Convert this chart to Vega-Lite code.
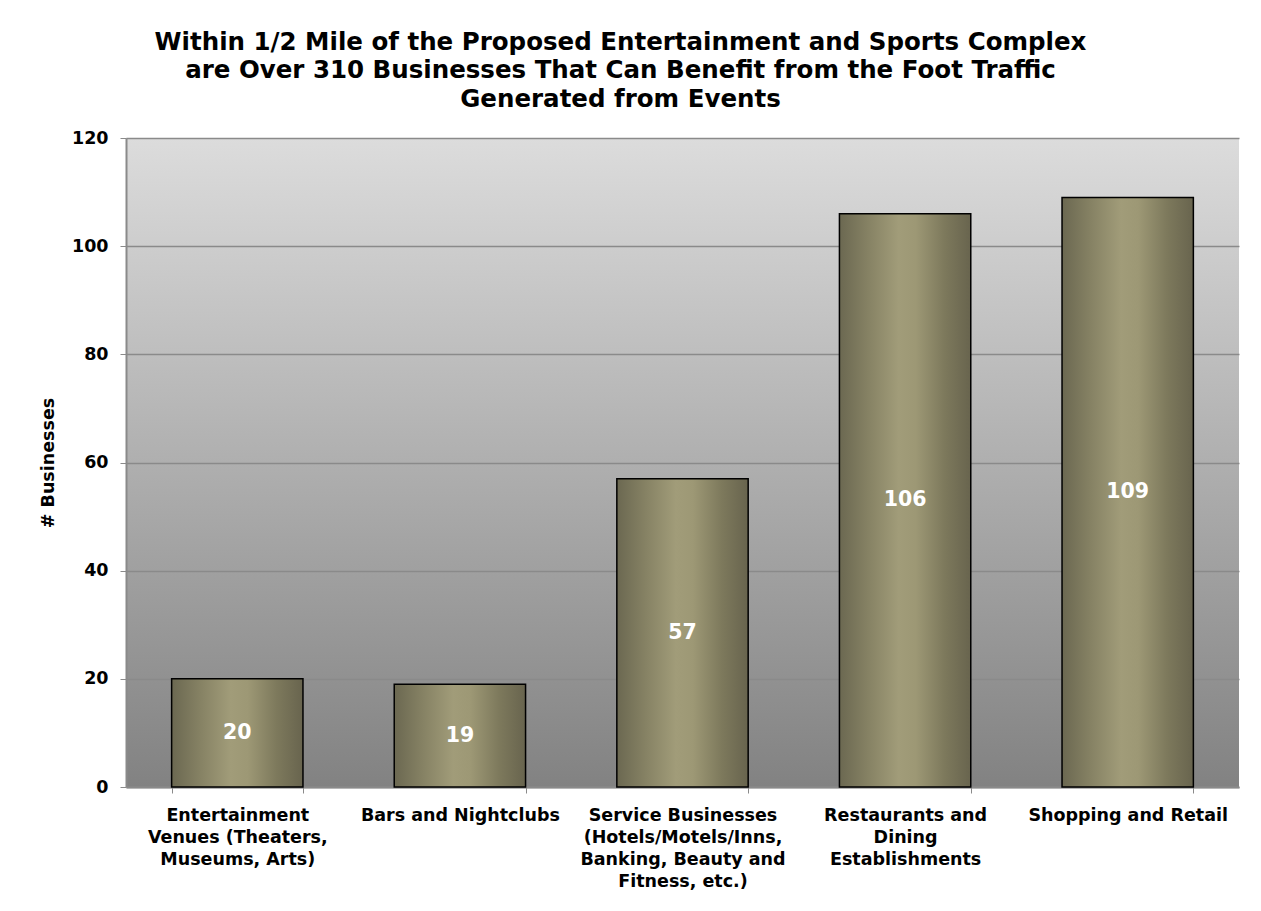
{
  "$schema": "https://vega.github.io/schema/vega-lite/v6.json",
  "width": 1113,
  "height": 649,
  "autosize": {"type": "none"},
  "padding": {"left": 126, "top": 138, "right": 22, "bottom": 124},
  "background": "#ffffff",
  "title": {
    "text": [
      "Within 1/2 Mile of the Proposed Entertainment and Sports Complex",
      "are Over 310 Businesses That Can Benefit from the Foot Traffic",
      "Generated from Events"
    ],
    "font": "DejaVu Sans",
    "fontSize": 24.5,
    "fontWeight": "bold",
    "color": "#000000",
    "lineHeight": 28.5,
    "anchor": "middle",
    "frame": "group",
    "dx": -62,
    "offset": 17
  },
  "view": {
    "fill": {
      "gradient": "linear",
      "x1": 0, "y1": 0, "x2": 0, "y2": 1,
      "stops": [
        {"offset": 0, "color": "#dcdcdc"},
        {"offset": 1, "color": "#828282"}
      ]
    },
    "stroke": null
  },
  "data": {
    "values": [
      {"category": "Entertainment Venues (Theaters, Museums, Arts)", "value": 20},
      {"category": "Bars and Nightclubs", "value": 19},
      {"category": "Service Businesses (Hotels/Motels/Inns, Banking, Beauty and Fitness, etc.)", "value": 57},
      {"category": "Restaurants and Dining Establishments", "value": 106},
      {"category": "Shopping and Retail", "value": 109}
    ]
  },
  "encoding": {
    "x": {
      "field": "category",
      "type": "nominal",
      "sort": null,
      "scale": {"paddingInner": 0.41, "paddingOuter": 0.205},
      "axis": {
        "title": null,
        "labelAngle": 0,
        "labelFont": "DejaVu Sans",
        "labelFontSize": 17.5,
        "labelFontWeight": "bold",
        "labelColor": "#000000",
        "labelLineHeight": 22,
        "labelBaseline": "top",
        "labelAlign": "center",
        "labelPadding": 13,
        "labelLimit": 400,
        "labelOverlap": false,
        "tickBand": "extent",
        "tickSize": 6,
        "tickColor": "#8a8a8a",
        "domainColor": "#8a8a8a",
        "domainWidth": 2,
        "labelExpr": "datum.value == 'Entertainment Venues (Theaters, Museums, Arts)' ? ['Entertainment', 'Venues (Theaters,', 'Museums, Arts)'] : datum.value == 'Service Businesses (Hotels/Motels/Inns, Banking, Beauty and Fitness, etc.)' ? ['Service Businesses', '(Hotels/Motels/Inns,', 'Banking, Beauty and', 'Fitness, etc.)'] : datum.value == 'Restaurants and Dining Establishments' ? ['Restaurants and', 'Dining', 'Establishments'] : datum.label"
      }
    }
  },
  "layer": [
    {
      "mark": {
        "type": "bar",
        "stroke": "#000000",
        "strokeWidth": 1.5,
        "color": {
          "gradient": "linear",
          "x1": 0, "y1": 0, "x2": 1, "y2": 0,
          "stops": [
            {"offset": 0, "color": "#6b6851"},
            {"offset": 0.22, "color": "#868264"},
            {"offset": 0.45, "color": "#a19c79"},
            {"offset": 0.58, "color": "#9d9875"},
            {"offset": 0.8, "color": "#7d795c"},
            {"offset": 1, "color": "#68644e"}
          ]
        }
      },
      "encoding": {
        "y": {
          "field": "value",
          "type": "quantitative",
          "scale": {"domain": [0, 120], "nice": false},
          "axis": {
            "values": [0, 20, 40, 60, 80, 100, 120],
            "title": "# Businesses",
            "titleFont": "DejaVu Sans",
            "titleFontSize": 17.5,
            "titleFontWeight": "bold",
            "titleColor": "#000000",
            "titlePadding": 14,
            "labelFont": "DejaVu Sans",
            "labelFontSize": 17.5,
            "labelFontWeight": "bold",
            "labelColor": "#000000",
            "labelPadding": 12,
            "tickSize": 6,
            "tickColor": "#8a8a8a",
            "domainColor": "#8a8a8a",
            "domainWidth": 2,
            "grid": true,
            "gridColor": "#8a8a8a",
            "gridWidth": 1.5
          }
        }
      }
    },
    {
      "mark": {
        "type": "text",
        "color": "#ffffff",
        "font": "DejaVu Sans",
        "fontSize": 20.5,
        "fontWeight": "bold",
        "baseline": "middle",
        "align": "center"
      },
      "encoding": {
        "y": {"field": "value", "type": "quantitative", "stack": "zero", "bandPosition": 0.5},
        "text": {"field": "value", "type": "quantitative"}
      }
    }
  ]
}
